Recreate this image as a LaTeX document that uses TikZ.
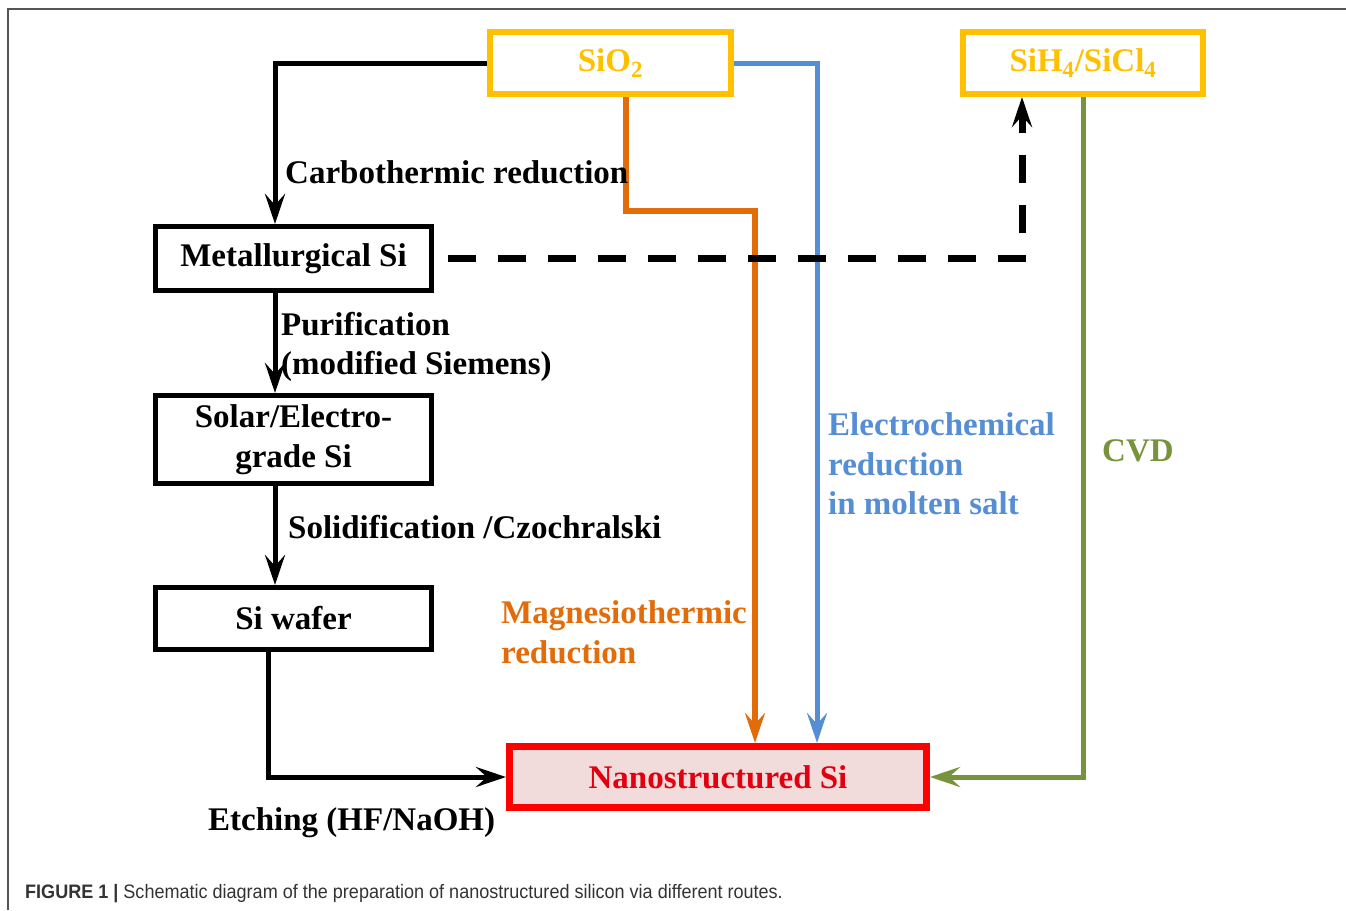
\documentclass[tikz,border=0pt]{standalone}
\usepackage{fontspec}
\setmainfont{Liberation Serif}
\newfontfamily\capfont{Liberation Sans}
\usetikzlibrary{arrows.meta}
\definecolor{cyel}{HTML}{FFC000}
\definecolor{corg}{HTML}{E36C0A}
\definecolor{cblu}{HTML}{558ED5}
\definecolor{cgrn}{HTML}{77933C}
\definecolor{cred}{HTML}{FF0000}
\definecolor{cnred}{HTML}{E00010}
\definecolor{cfill}{HTML}{F2DCDB}
\definecolor{cframe}{HTML}{555555}
\definecolor{ccap}{HTML}{333333}
\tikzset{
  txt/.style={font=\fontsize{33}{39.5}\selectfont\bfseries, inner sep=0pt},
  box/.style={draw, line width=5pt, inner sep=0pt, align=center, txt},
  ybox/.style={box, draw=cyel, line width=6pt, text=cyel},
  arr/.style={-{Stealth[length=30pt,width=20pt,inset=11pt]}},
  conn/.style={line width=5pt, arr},
  lbl/.style={txt, anchor=west, align=left},
}
\begin{document}
\begin{tikzpicture}[x=1pt,y=-1pt]
\useasboundingbox (0,0) rectangle (1346,910);
\draw[cframe, line width=1.5pt] (8,910) -- (8,9) -- (1346,9);
% boxes
\node[ybox, minimum width=241pt, minimum height=62pt] (sio) at (610.5,63) {SiO\textsubscript{2}};
\node[ybox, minimum width=240pt, minimum height=62pt] (sih) at (1083,63) {SiH\textsubscript{4}/SiCl\textsubscript{4}};
\node[box, minimum width=276pt, minimum height=64pt] (met) at (293.5,258.5) {Metallurgical Si};
\node[box, minimum width=276pt, minimum height=88pt] (sol) at (293.5,439.5) {Solar/Electro-\\grade Si};
\node[box, minimum width=276pt, minimum height=62pt] (waf) at (293.5,618.5) {Si wafer};
\node[box, draw=cred, fill=cfill, text=cnred, line width=7pt, minimum width=417pt, minimum height=61pt] (nano) at (718,777) {Nanostructured Si};
% connectors
\draw[conn] (sio.west) -| ([xshift=-18.5pt]met.north);
\draw[conn] ([xshift=-18.5pt]met.south) -- ([xshift=-18.5pt]sol.north);
\draw[conn] ([xshift=-18.5pt]sol.south) -- ([xshift=-18.5pt]waf.south |- waf.north);
\draw[conn] ([xshift=-25.5pt]waf.south) |- (nano.west);
\draw[conn, corg, line width=6pt] ([xshift=15.5pt]sio.south) -- ++(0,114) -| ([xshift=37pt]nano.north);
\draw[conn, cblu] (sio.east) -| ([xshift=99pt]nano.north);
\draw[conn, cgrn] (sih.south) |- (nano.east);
\draw[line width=7pt, dash pattern=on 28pt off 22pt, arr] ([xshift=13.5pt]met.east) -| ([xshift=-61pt]sih.south);
% labels
\node[lbl] (lcarb) at (285,172) {Carbothermic reduction};
\node[lbl] (lpur) at (281,347) {Purification\\(modified Siemens)};
\node[lbl] (lsol) at (288,527) {Solidification /Czochralski};
\node[lbl] (letch) at (208,823) {Etching (HF/NaOH)};
\node[lbl, text=corg] (lmag) at (501,632) {Magnesiothermic\\reduction};
\node[lbl, text=cblu] (lele) at (828,464) {Electrochemical\\reduction\\in molten salt};
\node[lbl, text=cgrn] (lcvd) at (1102,451) {CVD};
% caption
\node[anchor=base west, inner sep=0pt, text=ccap] (cap) at (25,898) {\scalebox{0.925}[1]{\capfont\fontsize{19.5}{22}\selectfont\textbf{FIGURE 1 |} Schematic diagram of the preparation of nanostructured silicon via different routes.}};
\end{tikzpicture}
\end{document}
